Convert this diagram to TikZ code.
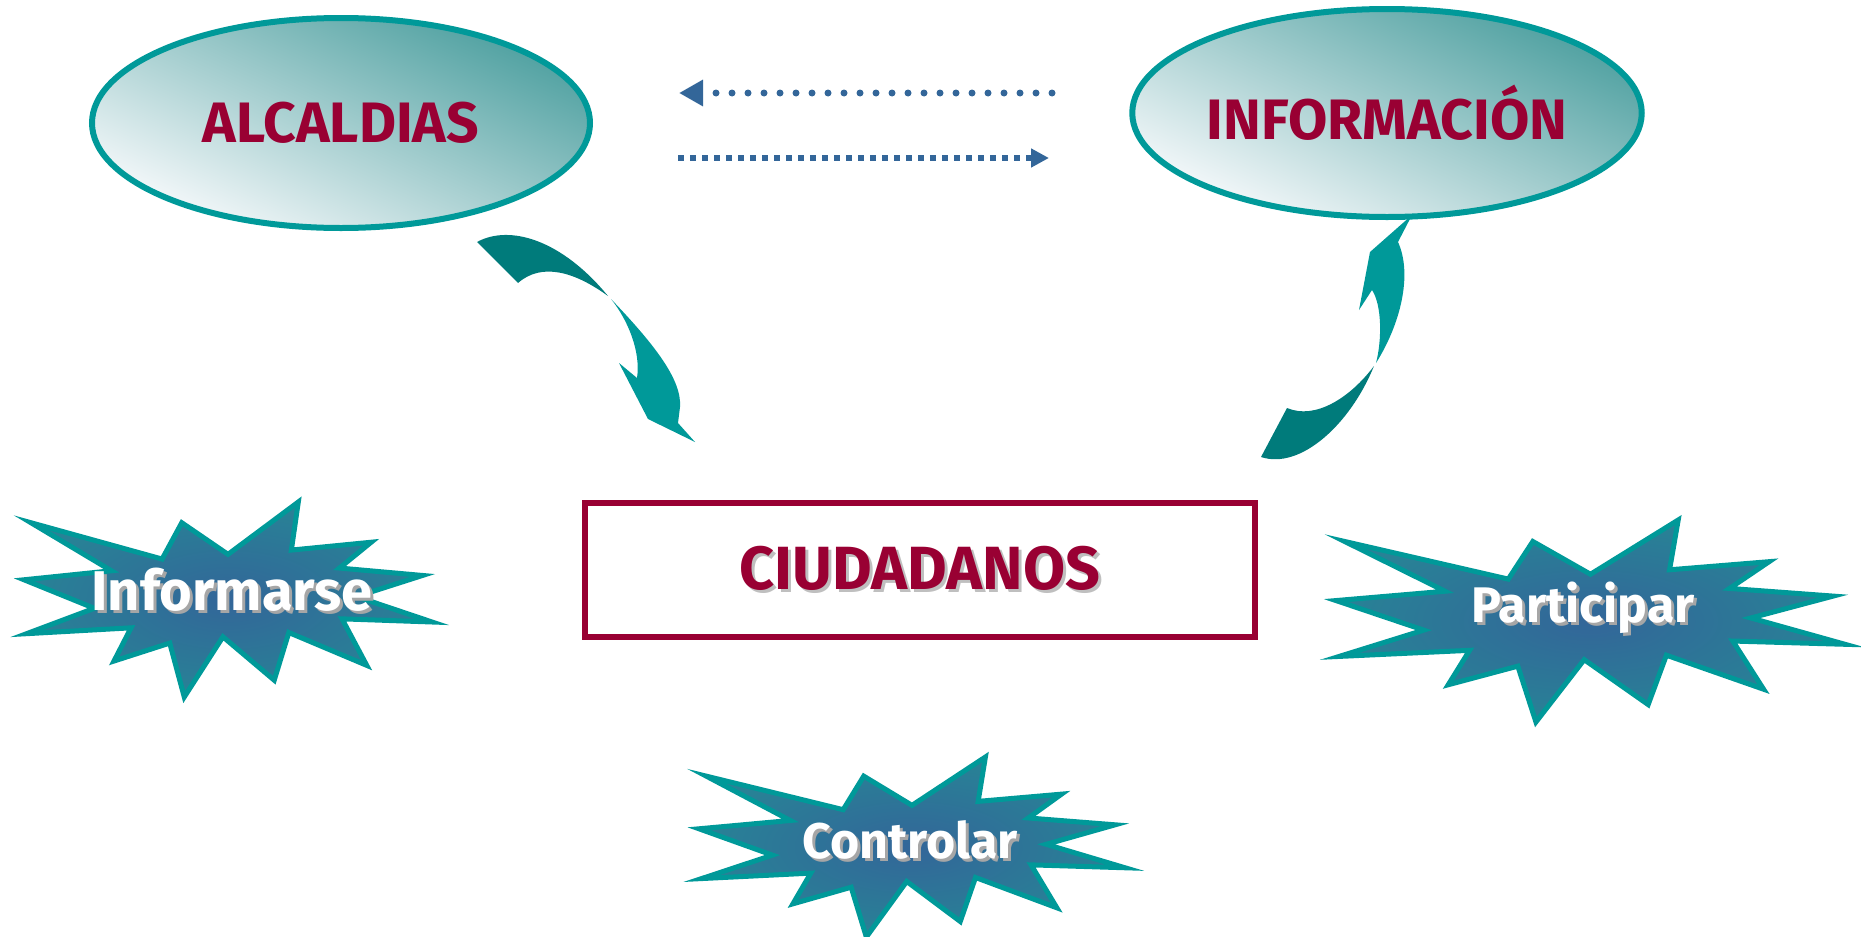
\documentclass[tikz,border=0pt]{standalone}
\usepackage{fontspec}
\setmainfont{Fira Sans}
\usetikzlibrary{shapes.geometric,arrows.meta}

\definecolor{verdeazul}{RGB}{0,153,153}
\definecolor{verdeoscuro}{RGB}{0,123,123}
\definecolor{granate}{RGB}{153,0,51}
\definecolor{azulpunto}{RGB}{51,102,153}
\definecolor{tealestrella}{RGB}{40,130,150}
\definecolor{tealglobo}{RGB}{78,160,160}
\definecolor{blancoglobo}{RGB}{246,249,251}

% texto con sombra gris
\newcommand{\sombra}[3]{\rlap{\kern3pt\raisebox{-3pt}{\color{#1}#3}}{\color{#2}#3}}

\tikzset{
  globo/.style={ellipse, draw=verdeazul, line width=6pt, inner sep=0pt,
    top color=tealglobo, bottom color=blancoglobo, shading angle=-25,
    text=granate, font=\bfseries\fontsize{57}{60}\selectfont},
  caja/.style={rectangle, draw=granate, line width=6pt, inner sep=0pt,
    minimum width=670pt, minimum height=134pt,
    font=\bfseries\fontsize{61}{64}\selectfont},
  etiqueta/.style={inner sep=0pt, font=\bfseries\fontsize{50}{54}\selectfont},
  puntos/.style={azulpunto, line width=7pt, line cap=round,
    dash pattern=on 0pt off 16pt, -{Triangle[length=24pt,width=25pt]}},
  cuadros/.style={azulpunto, line width=6pt,
    dash pattern=on 6pt off 6pt, -{Triangle[length=18pt,width=18pt]}},
  estrella/.pic={
    \path[draw=verdeazul, line width=5pt, inner color=azulpunto, outer color=tealestrella]
      (50,26.85) -- (67.23,0) -- (65.53,24.65) -- (85.09,20.63) -- (77.32,33.87)
      -- (97.67,37.67) -- (81.51,48.5) -- (100,61.53) -- (77.95,59.92) -- (84,83.77)
      -- (64.91,66.93) -- (61.33,91.38) -- (48.76,69.14) -- (39.28,100) -- (35.72,72.35)
      -- (22.05,81.56) -- (26.24,64.52) -- (0.63,67.53) -- (17.23,54.51) -- (0,39.88)
      -- (21.42,35.26) -- (1.71,10.63) -- (33.85,29.26) -- (38.67,10.63) -- cycle;
  }
}

\begin{document}
\begin{tikzpicture}[x=1pt,y=-1pt]
	\useasboundingbox (0,0) rectangle (1861,937);

	% globos de arriba
	\node[globo, minimum width=498pt, minimum height=210pt] (alcaldias) at (341,123) {ALCALDIAS};
	\node[globo, minimum width=498pt, minimum height=208pt] (informacion) at (1387,113) {INFORMACIÓN};

	% flechas punteadas
	\coordinate (izq1) at (679,93);
	\coordinate (der1) at (1052,93);
	\coordinate (izq2) at (678,158);
	\coordinate (der2) at (1049,158);
	\draw[puntos] (der1) -- (izq1);
	\draw[cuadros] (izq2) -- (der2);

	% flecha curva de alcaldias a ciudadanos
	\fill[verdeoscuro] (477,242) .. controls (510,224) and (562,240) .. (608,296)
		.. controls (575,272) and (542,262) .. (518,283) -- cycle;
	\fill[verdeazul] (611,299) .. controls (655,345) and (682,380) .. (680,407)
		-- (678,423) -- (695,442) -- (648,419) -- (619,363) -- (637,378)
		.. controls (641,352) and (628,320) .. (611,299) -- cycle;

	% flecha curva de ciudadanos a informacion
	\fill[verdeoscuro] (1261,457) .. controls (1300,470) and (1350,425) .. (1374,366)
		.. controls (1350,398) and (1315,420) .. (1287,408) -- cycle;
	\fill[verdeazul] (1376,363) .. controls (1400,325) and (1413,275) .. (1398,242)
		-- (1412,215) -- (1370,252) -- (1359,310) -- (1372,290)
		.. controls (1382,305) and (1382,340) .. (1376,363) -- cycle;

	% caja central
	\node[caja] (ciudadanos) at (920,570) {\sombra{black!25}{granate}{CIUDADANOS}};

	% estrellas
	\pic[xscale=4.08, yscale=1.95] at (24,502) {estrella};
	\pic[xscale=5.09, yscale=2.02] at (1336,520) {estrella};
	\pic[xscale=4.26, yscale=1.80] at (699,757) {estrella};

	\node[etiqueta, font=\bfseries\fontsize{56}{60}\selectfont] (informarse) at (232,591) {\sombra{black!35}{white}{Informarse}};
	\node[etiqueta] (participar) at (1583,609) {\sombra{black!35}{white}{Participar}};
	\node[etiqueta] (controlar) at (910,841) {\sombra{black!35}{white}{Controlar}};
\end{tikzpicture}
\end{document}
